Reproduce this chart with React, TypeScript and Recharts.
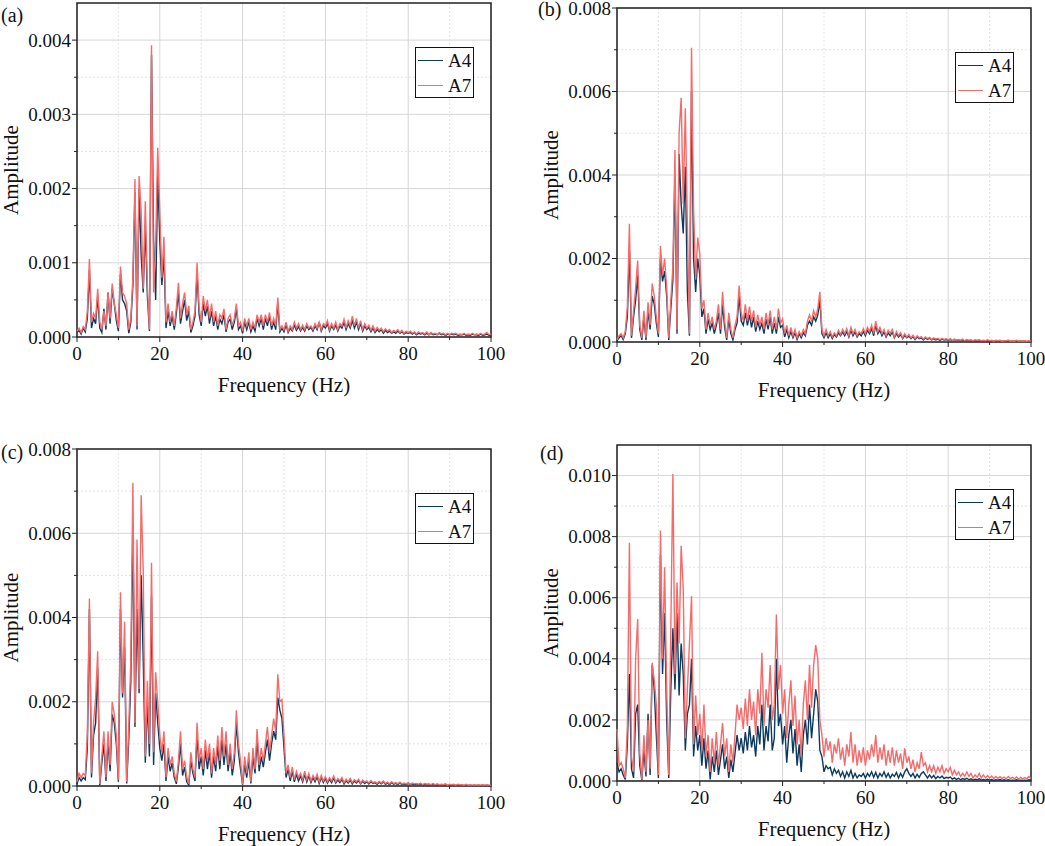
import React from 'react';
import { CartesianGrid, Label, Legend, Line, LineChart, ReferenceArea, XAxis, YAxis } from 'recharts';

const FONT = '"Liberation Serif", "Times New Roman", serif';
const A4_COLOR = '#0c3a5f';
const A7_COLOR = '#f56b6a';

// frequency bins (Hz)
const FREQ = [
  0, 0.5, 1, 1.5, 2, 2.5, 3, 3.5, 4, 4.5, 5, 5.5, 6, 6.5, 7, 7.5, 8, 8.5, 9, 9.5,
  10, 10.5, 11, 11.5, 12, 12.5, 13, 13.5, 14, 14.5, 15, 15.5, 16, 16.5, 17, 17.5, 18, 18.5, 19, 19.5,
  20, 20.5, 21, 21.5, 22, 22.5, 23, 23.5, 24, 24.5, 25, 25.5, 26, 26.5, 27, 27.5, 28, 28.5, 29, 29.5,
  30, 30.5, 31, 31.5, 32, 32.5, 33, 33.5, 34, 34.5, 35, 35.5, 36, 36.5, 37, 37.5, 38, 38.5, 39, 39.5,
  40, 40.5, 41, 41.5, 42, 42.5, 43, 43.5, 44, 44.5, 45, 45.5, 46, 46.5, 47, 47.5, 48, 48.5, 49, 49.5,
  50, 50.5, 51, 51.5, 52, 52.5, 53, 53.5, 54, 54.5, 55, 55.5, 56, 56.5, 57, 57.5, 58, 58.5, 59, 59.5,
  60, 60.5, 61, 61.5, 62, 62.5, 63, 63.5, 64, 64.5, 65, 65.5, 66, 66.5, 67, 67.5, 68, 68.5, 69, 69.5,
  70, 70.5, 71, 71.5, 72, 72.5, 73, 73.5, 74, 74.5, 75, 75.5, 76, 76.5, 77, 77.5, 78, 78.5, 79, 79.5,
  80, 80.5, 81, 81.5, 82, 82.5, 83, 83.5, 84, 84.5, 85, 85.5, 86, 86.5, 87, 87.5, 88, 88.5, 89, 89.5,
  90, 90.5, 91, 91.5, 92, 92.5, 93, 93.5, 94, 94.5, 95, 95.5, 96, 96.5, 97, 97.5, 98, 98.5, 99, 99.5,
  100,
];

// amplitudes in units of 1e-4
const A7_A = [
  0.8, 1.2, 0.6, 1.4, 1.0, 3.5, 10.5, 2.0, 3.2, 2.5, 6.5, 2.0, 1.0, 3.5, 1.5, 6.0, 2.5, 7.2, 4.5, 3.0,
  1.2, 9.5, 6.0, 5.5, 4.5, 1.0, 2.5, 8.0, 21.3, 1.5, 21.7, 17.0, 6.5, 18.3, 7.0, 1.0, 39.3, 6.0, 12.5, 25.5,
  17.0, 8.0, 13.5, 2.0, 4.5, 2.0, 3.5, 1.5, 4.0, 7.3, 2.5, 4.5, 6.0, 3.0, 4.2, 1.0, 2.0, 3.5, 10.0, 4.0,
  2.0, 5.5, 3.5, 5.0, 2.5, 4.5, 2.0, 3.5, 1.5, 3.0, 2.5, 3.8, 1.0, 2.5, 3.0, 1.5, 2.5, 4.5, 1.5, 2.0,
  0.8, 2.5, 1.5, 2.5, 1.0, 2.0, 1.2, 3.0, 2.0, 3.0, 1.5, 3.0, 2.0, 3.3, 1.5, 2.5, 1.5, 5.3, 1.0, 1.5,
  1.0, 2.0, 0.8, 1.5, 1.0, 2.0, 1.2, 1.8, 1.0, 1.6, 1.0, 1.8, 1.2, 1.5, 1.0, 1.8, 1.2, 2.0, 1.0, 1.8,
  1.5, 2.2, 1.0, 1.8, 1.2, 2.0, 1.0, 1.8, 1.5, 2.4, 1.2, 2.2, 1.5, 2.8, 1.5, 2.5, 1.2, 2.2, 1.0, 1.8,
  1.2, 1.6, 0.9, 1.5, 0.8, 1.3, 0.9, 1.2, 0.7, 1.1, 0.8, 1.0, 0.6, 0.9, 0.7, 1.0, 0.6, 0.9, 0.5, 0.8,
  0.6, 0.8, 0.5, 0.7, 0.4, 0.7, 0.5, 0.6, 0.4, 0.7, 0.3, 0.6, 0.4, 0.5, 0.3, 0.6, 0.4, 0.5, 0.3, 0.5,
  0.3, 0.5, 0.4, 0.5, 0.3, 0.4, 0.3, 0.5, 0.3, 0.4, 0.3, 0.5, 0.3, 0.4, 0.3, 0.5, 0.3, 0.4, 0.6, 0.3,
  0.4,
];
const A4_A = [
  0.6, 0.9, 0.4, 1.2, 0.7, 2.5, 9.0, 1.2, 2.5, 1.8, 5.5, 1.2, 0.6, 3.8, 1.0, 6.0, 1.8, 6.5, 4.5, 2.2,
  0.8, 8.5, 5.0, 4.5, 3.5, 0.5, 2.0, 7.0, 19.5, 1.0, 20.0, 11.0, 6.0, 15.0, 5.5, 0.8, 38.0, 13.0, 5.0, 22.0,
  13.0, 7.0, 11.0, 1.2, 3.5, 1.5, 2.8, 1.0, 3.2, 6.0, 1.8, 3.5, 5.0, 2.2, 3.5, 0.6, 1.5, 2.8, 8.5, 3.0,
  1.5, 4.5, 2.8, 4.2, 1.8, 3.5, 1.5, 2.8, 1.0, 2.4, 1.8, 3.0, 0.7, 2.0, 2.4, 1.0, 2.0, 3.8, 1.0, 1.5,
  0.5, 2.0, 1.0, 2.0, 0.7, 1.5, 0.8, 2.5, 1.5, 2.5, 1.0, 2.5, 1.5, 2.8, 1.0, 2.0, 1.0, 4.5, 0.7, 1.2,
  0.7, 1.6, 0.6, 1.2, 0.8, 1.6, 0.9, 1.4, 0.8, 1.3, 0.8, 1.5, 1.0, 1.3, 0.8, 1.5, 1.0, 2.0, 0.8, 1.5,
  1.2, 1.8, 0.8, 1.5, 1.0, 1.6, 0.8, 1.5, 1.2, 2.0, 1.0, 1.8, 1.2, 2.2, 1.2, 2.0, 1.0, 1.8, 0.8, 1.5,
  1.0, 1.3, 0.7, 1.2, 0.6, 1.0, 0.7, 1.0, 0.5, 0.9, 0.6, 0.8, 0.5, 0.7, 0.5, 0.8, 0.5, 0.7, 0.4, 0.6,
  0.5, 0.6, 0.4, 0.6, 0.3, 0.5, 0.4, 0.5, 0.3, 0.5, 0.3, 0.5, 0.3, 0.4, 0.3, 0.5, 0.3, 0.4, 0.2, 0.4,
  0.3, 0.4, 0.3, 0.4, 0.2, 0.3, 0.3, 0.4, 0.2, 0.3, 0.2, 0.4, 0.3, 0.3, 0.2, 0.4, 0.2, 0.3, 0.4, 0.2,
  0.3,
];

const A7_B = [
  0.5, 1.5, 2.0, 1.0, 2.5, 8.5, 28.3, 1.5, 7.5, 13.0, 19.5, 4.0, 1.0, 7.5, 1.0, 9.5, 4.0, 14.0, 11.0, 6.0,
  2.0, 23.0, 16.0, 20.0, 13.0, 1.0, 10.0, 18.0, 46.0, 3.0, 50.0, 58.5, 33.0, 56.0, 28.0, 2.0, 70.5, 32.0, 15.0, 25.0,
  21.0, 8.0, 10.0, 3.0, 7.0, 4.0, 6.0, 3.0, 5.0, 9.0, 3.0, 12.0, 5.0, 1.0, 7.0, 3.0, 1.0, 4.0, 6.0, 13.5,
  7.0, 5.0, 9.0, 5.0, 8.5, 5.0, 7.5, 3.5, 6.5, 4.0, 6.0, 3.0, 7.0, 4.0, 7.5, 3.0, 6.0, 3.0, 8.0, 4.5,
  5.5, 2.0, 4.0, 1.5, 3.5, 1.5, 3.0, 1.0, 2.5, 1.5, 3.0, 2.0, 5.0, 6.5, 5.0, 7.5, 6.0, 8.0, 12.0, 3.0,
  1.5, 3.0, 1.5, 2.5, 1.2, 2.2, 1.5, 2.8, 1.8, 3.0, 2.0, 3.2, 1.5, 3.5, 2.0, 3.0, 1.5, 2.5, 2.0, 3.2,
  2.0, 3.5, 2.5, 4.0, 2.0, 5.0, 2.5, 3.5, 2.0, 3.0, 1.5, 2.8, 2.0, 3.0, 1.2, 2.5, 1.5, 2.2, 1.0, 2.0,
  1.2, 1.8, 1.0, 1.6, 0.8, 1.5, 1.0, 1.3, 0.7, 1.2, 0.8, 1.1, 0.6, 1.0, 0.7, 0.9, 0.5, 0.9, 0.6, 0.8,
  0.5, 0.8, 0.4, 0.7, 0.5, 0.6, 0.4, 0.7, 0.3, 0.6, 0.4, 0.5, 0.3, 0.5, 0.4, 0.5, 0.3, 0.4, 0.3, 0.5,
  0.3, 0.4, 0.2, 0.4, 0.3, 0.4, 0.2, 0.3, 0.3, 0.4, 0.2, 0.3, 0.2, 0.4, 0.2, 0.3, 0.2, 0.3, 0.2, 0.3,
  0.2,
];
const A4_B = [
  0.3, 1.0, 1.5, 0.6, 2.0, 6.0, 22.0, 1.0, 6.0, 10.0, 16.0, 3.0, 0.5, 6.0, 0.5, 7.5, 3.0, 11.0, 9.0, 4.5,
  1.2, 20.0, 14.5, 17.0, 11.0, 0.5, 8.0, 15.0, 40.0, 2.0, 45.0, 33.0, 26.0, 42.0, 12.0, 1.5, 60.0, 20.0, 12.0, 20.0,
  16.0, 6.0, 8.0, 2.0, 5.5, 3.0, 4.5, 2.0, 4.0, 7.0, 2.0, 9.0, 3.5, 0.5, 5.5, 2.0, 0.5, 3.0, 4.5, 11.0,
  5.0, 4.0, 7.0, 4.0, 6.5, 3.5, 6.0, 2.5, 5.0, 3.0, 4.5, 2.0, 5.5, 3.0, 6.0, 2.0, 4.5, 2.0, 6.0, 3.5,
  4.0, 1.2, 3.0, 1.0, 2.5, 1.0, 2.2, 0.6, 2.0, 1.0, 2.2, 1.5, 4.0, 5.0, 4.0, 6.0, 5.0, 6.5, 10.0, 2.0,
  1.0, 2.2, 1.0, 2.0, 0.8, 1.8, 1.2, 2.2, 1.5, 2.4, 1.5, 2.5, 1.2, 2.8, 1.5, 2.4, 1.2, 2.0, 1.5, 2.5,
  1.5, 2.8, 2.0, 3.2, 1.5, 4.0, 2.0, 2.8, 1.5, 2.4, 1.2, 2.2, 1.5, 2.4, 1.0, 2.0, 1.2, 1.8, 0.8, 1.6,
  1.0, 1.4, 0.8, 1.3, 0.6, 1.2, 0.8, 1.0, 0.5, 1.0, 0.6, 0.9, 0.5, 0.8, 0.5, 0.7, 0.4, 0.7, 0.5, 0.6,
  0.4, 0.6, 0.3, 0.6, 0.4, 0.5, 0.3, 0.5, 0.2, 0.5, 0.3, 0.4, 0.2, 0.4, 0.3, 0.4, 0.2, 0.3, 0.2, 0.4,
  0.2, 0.3, 0.2, 0.3, 0.2, 0.3, 0.2, 0.2, 0.2, 0.3, 0.2, 0.2, 0.2, 0.3, 0.2, 0.2, 0.2, 0.2, 0.1, 0.2,
  0.2,
];

const A7_C = [
  1.0, 3.0, 2.0, 3.0, 2.5, 12.5, 44.5, 3.0, 15.0, 21.0, 32.0, 0.5, 7.0, 13.0, 2.0, 13.0, 5.0, 20.0, 17.0, 12.0,
  1.5, 46.0, 22.0, 39.0, 1.0, 14.0, 30.0, 72.0, 15.0, 58.5, 23.0, 69.0, 51.0, 7.0, 25.0, 10.0, 53.0, 8.0, 27.0, 20.0,
  12.0, 8.0, 13.0, 2.0, 9.0, 5.0, 7.0, 3.0, 1.0, 6.0, 13.0, 4.0, 6.0, 2.0, 0.5, 8.0, 4.0, 2.0, 15.0, 6.0,
  9.0, 4.0, 11.0, 6.0, 10.0, 3.0, 9.0, 5.0, 12.0, 6.0, 14.0, 7.0, 13.0, 5.0, 10.0, 4.0, 8.0, 18.0, 10.0, 6.0,
  0.5, 7.0, 3.0, 8.0, 1.0, 9.0, 4.0, 13.5, 5.0, 9.0, 6.0, 10.0, 14.0, 8.0, 12.0, 16.0, 13.0, 26.5, 20.0, 20.5,
  12.0, 3.0, 5.0, 2.0, 4.5, 1.5, 3.5, 2.0, 3.0, 1.5, 3.5, 1.5, 3.0, 1.2, 2.5, 1.5, 2.8, 1.0, 2.5, 1.2,
  2.2, 1.0, 2.0, 1.2, 2.4, 1.0, 1.8, 1.2, 2.0, 0.8, 1.6, 1.0, 1.8, 0.8, 1.5, 1.0, 1.6, 0.7, 1.4, 0.9,
  1.2, 0.7, 1.3, 0.8, 1.0, 0.6, 1.1, 0.7, 1.2, 0.6, 0.9, 0.5, 1.0, 0.6, 0.8, 0.5, 0.9, 0.5, 0.7, 0.5,
  0.8, 0.4, 0.7, 0.5, 0.6, 0.4, 0.7, 0.3, 0.6, 0.4, 0.5, 0.3, 0.6, 0.3, 0.5, 0.3, 0.4, 0.3, 0.5, 0.2,
  0.4, 0.3, 0.4, 0.2, 0.4, 0.3, 0.3, 0.2, 0.4, 0.2, 0.3, 0.2, 0.3, 0.2, 0.3, 0.2, 0.3, 0.2, 0.3, 0.2,
  0.2,
];
const A4_C = [
  0.5, 2.0, 1.2, 2.0, 1.5, 9.0, 42.0, 2.0, 12.0, 15.0, 28.0, 0.2, 5.5, 10.0, 1.2, 10.5, 3.5, 17.0, 15.0, 10.0,
  1.0, 42.0, 21.0, 33.0, 0.6, 11.0, 25.0, 62.0, 14.0, 42.0, 22.0, 50.0, 30.0, 5.5, 20.0, 7.0, 45.0, 5.0, 22.0, 15.0,
  9.0, 6.0, 10.0, 1.2, 7.0, 3.5, 5.5, 2.0, 0.5, 4.5, 10.0, 2.5, 4.5, 1.0, 0.2, 6.0, 3.0, 1.2, 12.0, 4.0,
  7.0, 2.5, 8.5, 4.0, 8.0, 2.0, 7.0, 3.5, 9.5, 4.0, 11.0, 5.0, 10.0, 3.5, 8.0, 2.5, 6.0, 15.0, 8.0, 4.0,
  0.3, 5.0, 2.0, 6.0, 0.6, 7.0, 3.0, 11.0, 3.5, 7.0, 4.5, 8.0, 11.0, 6.0, 10.0, 13.0, 11.0, 21.0, 18.0, 16.0,
  9.0, 2.0, 4.0, 1.2, 3.5, 1.0, 2.8, 1.2, 2.4, 1.0, 2.8, 1.0, 2.4, 0.8, 2.0, 1.0, 2.2, 0.6, 2.0, 0.8,
  1.8, 0.7, 1.6, 0.8, 1.9, 0.7, 1.4, 0.8, 1.6, 0.5, 1.3, 0.7, 1.4, 0.5, 1.2, 0.7, 1.3, 0.5, 1.1, 0.6,
  1.0, 0.5, 1.0, 0.6, 0.8, 0.4, 0.9, 0.5, 1.0, 0.4, 0.7, 0.3, 0.8, 0.4, 0.6, 0.3, 0.7, 0.3, 0.5, 0.3,
  0.6, 0.3, 0.5, 0.3, 0.5, 0.3, 0.5, 0.2, 0.5, 0.3, 0.4, 0.2, 0.5, 0.2, 0.4, 0.2, 0.3, 0.2, 0.4, 0.1,
  0.3, 0.2, 0.3, 0.1, 0.3, 0.2, 0.2, 0.1, 0.3, 0.1, 0.2, 0.1, 0.2, 0.1, 0.2, 0.1, 0.2, 0.1, 0.2, 0.1,
  0.1,
];

const A7_D = [
  17.0, 5.0, 6.0, 4.0, 1.0, 18.0, 78.0, 8.0, 3.0, 40.0, 53.0, 9.0, 0.5, 15.0, 3.0, 20.0, 4.0, 38.7, 33.0, 25.0,
  2.0, 82.0, 40.0, 70.0, 30.0, 2.0, 50.0, 100.5, 35.0, 65.0, 45.0, 77.0, 63.0, 14.0, 30.0, 45.0, 60.5, 12.0, 28.0, 15.0,
  22.0, 10.0, 25.0, 8.0, 15.0, 3.0, 14.0, 6.0, 16.0, 5.0, 12.0, 19.0, 8.0, 14.0, 3.0, 12.0, 6.0, 15.0, 25.0, 20.0,
  24.0, 17.0, 27.0, 18.0, 30.0, 20.0, 26.0, 15.0, 30.0, 22.0, 42.0, 18.0, 30.0, 24.0, 38.0, 20.0, 25.0, 54.5, 30.0, 38.0,
  22.0, 30.0, 14.0, 25.0, 33.0, 18.0, 28.0, 12.0, 20.0, 8.0, 25.0, 33.0, 20.0, 38.0, 24.0, 38.0, 44.5, 40.0, 20.0, 15.0,
  8.0, 14.0, 10.0, 13.0, 6.0, 12.0, 9.0, 14.0, 7.0, 11.0, 5.0, 12.0, 8.0, 16.0, 6.0, 12.0, 5.0, 10.0, 6.0, 11.0,
  5.0, 10.0, 7.0, 12.0, 8.0, 15.0, 6.0, 11.0, 7.0, 12.0, 5.0, 10.0, 6.0, 11.0, 5.0, 10.0, 6.0, 9.0, 4.0, 10.7,
  6.0, 8.0, 4.0, 7.0, 3.0, 6.0, 4.0, 9.5, 5.0, 6.0, 3.0, 5.0, 3.0, 5.0, 2.5, 4.5, 3.0, 5.0, 2.5, 4.0,
  3.0, 4.5, 2.0, 3.5, 2.0, 3.0, 1.5, 2.5, 1.5, 3.0, 1.5, 2.5, 1.0, 2.0, 1.2, 2.5, 1.0, 2.0, 1.0, 1.8,
  1.0, 1.6, 0.8, 1.5, 0.9, 1.4, 0.8, 1.3, 0.7, 1.5, 0.8, 1.2, 0.7, 1.3, 0.6, 1.2, 0.7, 1.1, 0.8, 1.5,
  0.8,
];
const A4_D = [
  6.0, 3.0, 4.0, 2.0, 0.5, 12.0, 35.0, 4.0, 1.0, 22.0, 25.0, 5.0, 0.3, 10.0, 1.5, 22.0, 2.0, 38.0, 30.0, 15.0,
  1.0, 74.0, 35.0, 55.0, 20.0, 1.0, 30.0, 50.0, 30.0, 55.0, 28.0, 45.0, 35.0, 10.0, 22.0, 25.0, 40.0, 8.0, 18.0, 10.0,
  15.0, 5.0, 14.0, 4.0, 10.0, 0.5, 8.0, 3.0, 10.0, 2.0, 7.0, 12.0, 4.0, 8.0, 1.0, 7.0, 3.0, 9.0, 15.0, 10.0,
  14.0, 9.0, 16.0, 10.0, 18.0, 11.0, 15.0, 8.0, 18.0, 12.0, 25.0, 10.0, 18.0, 13.0, 25.0, 10.0, 14.0, 40.0, 18.0, 22.0,
  12.0, 18.0, 6.0, 15.0, 20.0, 9.0, 17.0, 5.0, 12.0, 3.0, 15.0, 20.0, 12.0, 25.0, 14.0, 22.0, 30.0, 26.0, 10.0, 8.0,
  3.0, 5.0, 4.0, 4.5, 2.0, 4.0, 2.5, 3.5, 1.5, 3.0, 1.0, 3.0, 1.5, 3.5, 1.0, 2.5, 1.0, 2.0, 1.5, 2.5,
  1.0, 2.5, 1.5, 3.0, 1.2, 2.8, 1.0, 2.5, 1.5, 3.0, 1.2, 2.5, 1.0, 2.2, 1.5, 2.8, 1.0, 2.5, 1.2, 3.0,
  4.0, 2.5, 1.5, 2.5, 1.0, 2.2, 1.2, 2.5, 3.0, 2.0, 1.0, 2.0, 1.0, 1.8, 0.8, 1.5, 1.0, 1.6, 0.8, 1.2,
  1.0, 1.3, 0.6, 1.0, 0.5, 0.9, 0.4, 0.8, 0.5, 0.9, 0.4, 0.7, 0.3, 0.6, 0.4, 0.7, 0.3, 0.5, 0.3, 0.6,
  0.3, 0.5, 0.2, 0.4, 0.3, 0.5, 0.2, 0.4, 0.2, 0.4, 0.2, 0.3, 0.2, 0.4, 0.2, 0.3, 0.2, 0.3, 0.2, 0.4,
  0.2,
];

const X_MAJOR = [0, 20, 40, 60, 80, 100];
const X_MINOR = [10, 30, 50, 70, 90];
const Y_MAJOR_A = [0, 10, 20, 30, 40];
const Y_MINOR_A = [5, 15, 25, 35];
const Y_MAJOR_BC = [0, 20, 40, 60, 80];
const Y_MINOR_BC = [10, 30, 50, 70];
const Y_MAJOR_D = [0, 20, 40, 60, 80, 100];
const Y_MINOR_D = [10, 30, 50, 70, 90];

const fmtAmp = (v: number) => (v / 10000).toFixed(3);

function XTick(props: any) {
  const { x, y, payload } = props;
  const major = X_MAJOR.includes(payload.value);
  return (
    <g>
      <line x1={x} x2={x} y1={y} y2={y + (major ? 5 : 3)} stroke="#222" strokeWidth={1} />
      {major && (
        <text x={x} y={y + 10} dy="0.71em" textAnchor="middle" fontSize={19} fontFamily={FONT} fill="#111">
          {payload.value}
        </text>
      )}
    </g>
  );
}

function makeYTick(majorTicks: number[]) {
  return function YTick(props: any) {
    const { x, y, payload } = props;
    const major = majorTicks.includes(payload.value);
    return (
      <g>
        <line x1={x - (major ? 5 : 3)} x2={x} y1={y} y2={y} stroke="#222" strokeWidth={1} />
        {major && (
          <text x={x - 6} y={y} dy="0.35em" textAnchor="end" fontSize={19} fontFamily={FONT} fill="#111">
            {fmtAmp(payload.value)}
          </text>
        )}
      </g>
    );
  };
}

function LegendBox(props: any) {
  const items = props.payload || [];
  return (
    <div
      style={{
        width: 59,
        height: 51,
        boxSizing: 'border-box',
        border: '1.5px solid #111',
        background: '#fff',
        fontFamily: FONT,
        fontSize: 19,
        position: 'relative',
      }}
    >
      {items.map((e: any, i: number) => (
        <div
          key={e.value}
          style={{ position: 'absolute', left: 2, top: 2 + i * 25, height: 21, display: 'flex', alignItems: 'center' }}
        >
          <span style={{ display: 'inline-block', width: 25, borderTop: `1.5px solid ${e.color}` }} />
          <span style={{ marginLeft: 5, lineHeight: '21px', color: '#111' }}>{e.value}</span>
        </div>
      ))}
    </div>
  );
}

interface PanelProps {
  tag: string;
  x0: number;
  y0: number;
  x1: number;
  y1: number;
  right: number;
  yMax: number;
  yMajor: number[];
  yMinor: number[];
  a4: number[];
  a7: number[];
}

const Y_AXIS_W = 90;
const X_AXIS_H = 60;
const M_TOP = 20;

function Panel({ x0, y0, x1, y1, right, yMax, yMajor, yMinor, a4, a7 }: PanelProps) {
  const data = FREQ.map((f, i) => ({ f, a4: a4[i], a7: a7[i] }));
  const width = x1 - x0 + Y_AXIS_W + right;
  const height = y1 - y0 + M_TOP + X_AXIS_H;
  const yTicks = [...yMajor, ...yMinor].sort((p, q) => p - q);
  const xTicks = [...X_MAJOR, ...X_MINOR].sort((p, q) => p - q);
  const YTick = makeYTick(yMajor);
  return (
    <div style={{ position: 'absolute', left: x0 - Y_AXIS_W, top: y0 - M_TOP }}>
      <LineChart width={width} height={height} data={data} margin={{ top: M_TOP, right, bottom: 0, left: 0 }}>
        <CartesianGrid horizontalValues={yMinor} verticalValues={X_MINOR} stroke="#e3e3e3" strokeDasharray="2 2" />
        <CartesianGrid horizontalValues={yMajor} verticalValues={X_MAJOR} stroke="#d6d6d6" />
        <XAxis
          dataKey="f"
          type="number"
          domain={[0, 100]}
          ticks={xTicks}
          interval={0}
          height={X_AXIS_H}
          tickSize={0}
          tickMargin={0}
          axisLine={false}
          tickLine={false}
          tick={XTick}
        >
          <Label
            value="Frequency (Hz)"
            position="insideBottom"
            offset={5}
            style={{ fontFamily: FONT, fontSize: 21, fill: '#111' }}
          />
        </XAxis>
        <YAxis
          type="number"
          domain={[0, yMax]}
          ticks={yTicks}
          interval={0}
          width={Y_AXIS_W}
          tickSize={0}
          tickMargin={0}
          axisLine={false}
          tickLine={false}
          tick={YTick}
        >
          <Label
            value="Amplitude"
            angle={-90}
            position="insideLeft"
            offset={24}
            style={{ fontFamily: FONT, fontSize: 21, fill: '#111', textAnchor: 'middle' }}
          />
        </YAxis>
        <Line
          type="linear"
          dataKey="a4"
          name="A4"
          stroke={A4_COLOR}
          strokeWidth={1.4}
          dot={false}
          isAnimationActive={false}
        />
        <Line
          type="linear"
          dataKey="a7"
          name="A7"
          stroke={A7_COLOR}
          strokeWidth={1.4}
          dot={false}
          isAnimationActive={false}
        />
        <ReferenceArea
          x1={0}
          x2={100}
          y1={0}
          y2={yMax}
          fill="none"
          fillOpacity={0}
          stroke="#222"
          strokeWidth={1.5}
          ifOverflow="visible"
        />
        <Legend
          layout="vertical"
          align="center"
          verticalAlign="middle"
          content={LegendBox}
          wrapperStyle={{ left: x1 - x0 + Y_AXIS_W - 76, top: M_TOP + 44, width: 59, height: 51 }}
        />
      </LineChart>
    </div>
  );
}

const PANELS: PanelProps[] = [
  { tag: '(a)', x0: 77, y0: 3, x1: 491, y1: 337, right: 30, yMax: 45, yMajor: Y_MAJOR_A, yMinor: Y_MINOR_A, a4: A4_A, a7: A7_A },
  { tag: '(b)', x0: 617, y0: 8, x1: 1031, y1: 342, right: 14, yMax: 80, yMajor: Y_MAJOR_BC, yMinor: Y_MINOR_BC, a4: A4_B, a7: A7_B },
  { tag: '(c)', x0: 77, y0: 449, x1: 491, y1: 786, right: 30, yMax: 80, yMajor: Y_MAJOR_BC, yMinor: Y_MINOR_BC, a4: A4_C, a7: A7_C },
  { tag: '(d)', x0: 617, y0: 445, x1: 1031, y1: 781, right: 14, yMax: 110, yMajor: Y_MAJOR_D, yMinor: Y_MINOR_D, a4: A4_D, a7: A7_D },
];

const TAG_POS = [
  { left: 1, top: 5 },
  { left: 538, top: -1 },
  { left: 1, top: 442 },
  { left: 540, top: 443 },
];

export default function App() {
  return (
    <div
      style={{
        position: 'absolute',
        left: 0,
        top: 0,
        width: 1045,
        height: 846,
        overflow: 'hidden',
        background: '#fff',
        fontFamily: FONT,
      }}
    >
      {PANELS.map((p) => (
        <Panel key={p.tag} {...p} />
      ))}
      {PANELS.map((p, i) => (
        <div
          key={p.tag + '-tag'}
          style={{ position: 'absolute', ...TAG_POS[i], fontSize: 20, lineHeight: '20px', color: '#111' }}
        >
          {p.tag}
        </div>
      ))}
    </div>
  );
}
